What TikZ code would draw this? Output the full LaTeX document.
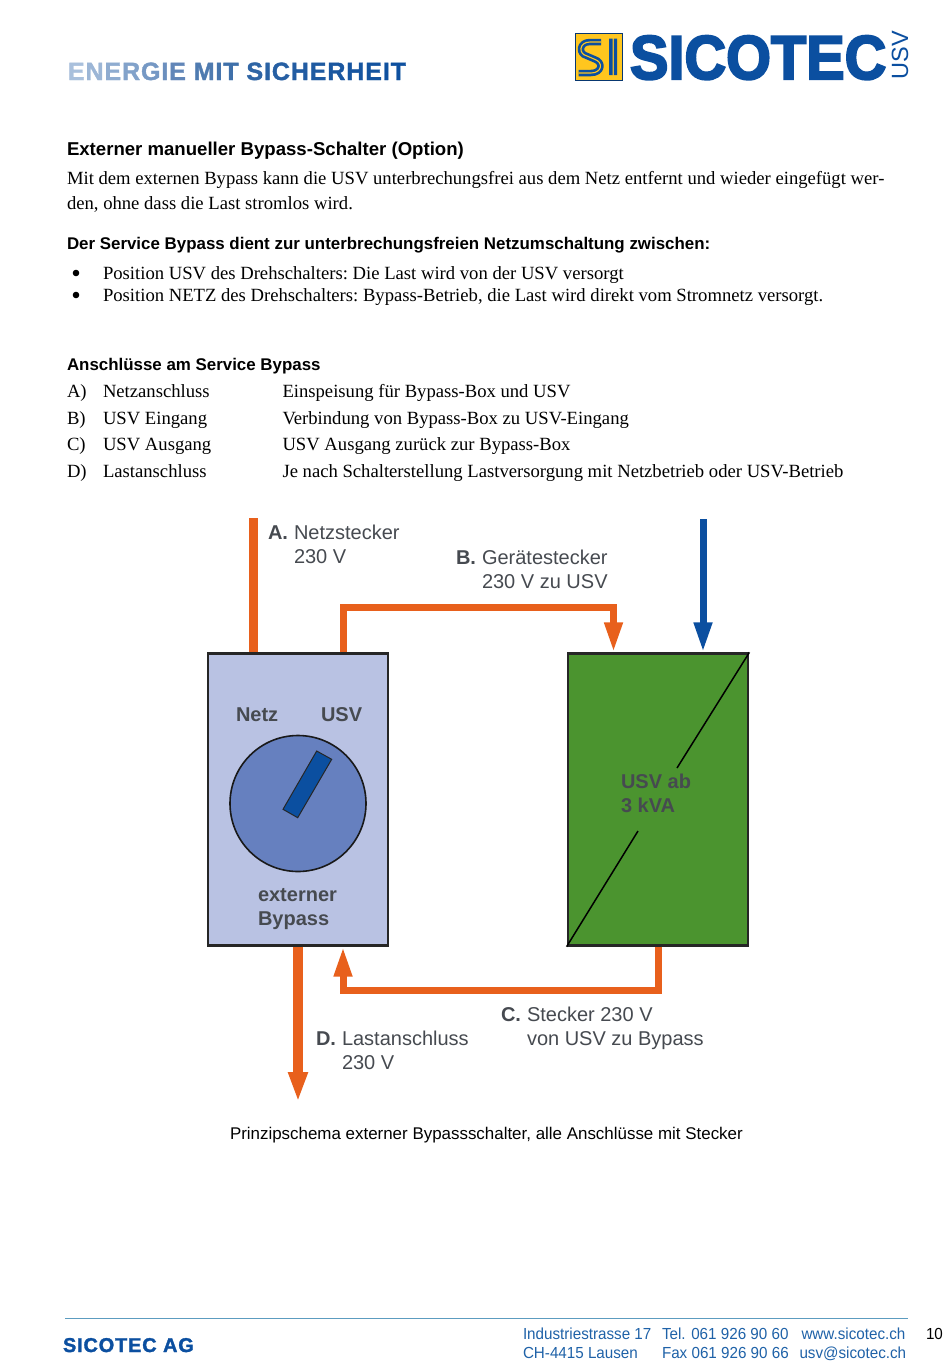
\documentclass[tikz,border=0pt]{standalone}
\usepackage{fontspec}
\usetikzlibrary{arrows.meta,calc}
\setmainfont{Liberation Serif}
\newfontfamily\hv{Liberation Sans}
\newfontfamily\hvn[FakeStretch=0.95]{Liberation Sans}
\newfontfamily\hvfat[FakeBold=3.5]{Liberation Sans Bold}
\newfontfamily\hvsemi[FakeBold=1.5]{Liberation Sans Bold}
\newfontfamily\hvag[FakeBold=1.5,LetterSpace=4]{Liberation Sans Bold}
\definecolor{orangeline}{HTML}{E8601C}
\definecolor{blueline}{HTML}{0B4FA0}
\definecolor{boxblue}{HTML}{B9C2E3}
\definecolor{dialblue}{HTML}{6680BF}
\definecolor{usvgreen}{HTML}{4B942F}
\definecolor{labelgray}{HTML}{464A50}
\definecolor{footblue}{HTML}{1F62A8}
\definecolor{rulecol}{HTML}{5C9CC0}
\definecolor{logoyellow}{HTML}{FFC61E}
\newcommand{\sgl}[2]{\textcolor[HTML]{#1}{#2}\kern0.9pt\relax}
\tikzset{
  txt/.style={inner sep=0pt,outer sep=0pt,anchor=base west},
  body/.style={txt,font=\frenchspacing\fontsize{18.65}{22}\selectfont},
  bulletdot/.style={circle,fill=black,inner sep=0pt,minimum size=6.6pt},
  headA/.style={txt,font=\hv\bfseries\fontsize{18.6}{22}\selectfont},
  headB/.style={txt,font=\hv\bfseries\fontsize{16.9}{20}\selectfont},
  dlab/.style={txt,text=labelgray,font=\hv\fontsize{20}{24}\selectfont},
  dbold/.style={txt,text=labelgray,font=\hv\bfseries\fontsize{20}{24}\selectfont},
  foot/.style={txt,text=footblue,font=\hvn\fontsize{16}{18}\selectfont},
  flow/.style={draw=orangeline,line width=7pt,line join=miter},
  tipO/.style={-{Triangle[length=30pt,width=17pt]}},
  boxnode/.style={draw=black!85,line width=2.4pt,minimum width=180.4pt,minimum height=291.9pt,inner sep=0pt}
}
\begin{document}
\begin{tikzpicture}[x=1pt,y=-1pt]
\useasboundingbox (0,0) rectangle (950,1369);
\fill[white] (0,0) rectangle (950,1369);
% header
\node[txt,font=\hvsemi\fontsize{25}{28}\selectfont] (slogan) at (68,80) {\sgl{A9C0DC}{E}\sgl{9CB6D6}{N}\sgl{8FACD0}{E}\sgl{82A2CA}{R}\sgl{7598C4}{G}\sgl{6B8FBE}{I}\sgl{6186B8}{E} \sgl{4F7BB0}{M}\sgl{4675AD}{I}\sgl{3F70AA}{T} \sgl{2F65A5}{S}\sgl{2A62A4}{I}\sgl{265FA3}{C}\sgl{225CA2}{H}\sgl{1E5AA1}{E}\sgl{1A57A0}{R}\sgl{1655A0}{H}\sgl{13539F}{E}\sgl{10519F}{I}\sgl{0E509F}{T}};
% logo mark
\node[draw=blueline!70!black,line width=0.8pt,fill=logoyellow,minimum size=47pt,inner sep=0pt,anchor=north west] (mark) at (574.5,33) {};
\draw[blueline,line width=6.5pt,line cap=butt,line join=round] (601,42) -- (590,42) .. controls (579,42) and (578,54) .. (587,56) -- (594,59) .. controls (604,62) and (602,73) .. (591,73) -- (578.5,73);
\draw[logoyellow,line width=1.1pt] (601,42) -- (590,42) .. controls (579,42) and (578,54) .. (587,56) -- (594,59) .. controls (604,62) and (602,73) .. (591,73) -- (578.5,73);
\fill[blueline] (609,38.5) rectangle (612.5,75) (613.8,38.5) rectangle (617,75);
\node[txt,text=blueline,font=\hvfat\fontsize{62}{62}\selectfont,xscale=0.93] (brand) at (630,79) {SICOTEC};
\node[txt,text=blueline,font=\hv\fontsize{23.5}{24}\selectfont,rotate=90] (brandusv) at (908,79) {USV};
% text block
\node[headA] (t1) at (67,155) {Externer manueller Bypass-Schalter (Option)};
\node[body] (t2) at (67,184) {Mit dem externen Bypass kann die USV unterbrechungsfrei aus dem Netz entfernt und wieder eingefügt wer-};
\node[body] (t3) at (67,209) {den, ohne dass die Last stromlos wird.};
\node[headB] (t4) at (67,249) {Der Service Bypass dient zur unterbrechungsfreien Netzumschaltung zwischen:};
\node[bulletdot] (b1) at (76,273) {};
\node[body] (t5) at (103,279) {Position USV des Drehschalters: Die Last wird von der USV versorgt};
\node[bulletdot] (b2) at (76,295) {};
\node[body] (t6) at (103,301) {Position NETZ des Drehschalters: Bypass-Betrieb, die Last wird direkt vom Stromnetz versorgt.};
\node[headB] (t7) at (67,370) {Anschlüsse am Service Bypass};
\node[body] (a1) at (67,397) {A)};
\node[body] (a2) at (103,397) {Netzanschluss};
\node[body] (a3) at (282.5,397) {Einspeisung für Bypass-Box und USV};
\node[body] (b1a) at (67,424) {B)};
\node[body] (b2a) at (103,424) {USV Eingang};
\node[body] (b3a) at (282.5,424) {Verbindung von Bypass-Box zu USV-Eingang};
\node[body] (c1) at (67,450) {C)};
\node[body] (c2) at (103,450) {USV Ausgang};
\node[body] (c3) at (282.5,450) {USV Ausgang zurück zur Bypass-Box};
\node[body] (d1) at (67,477) {D)};
\node[body] (d2) at (103,477) {Lastanschluss};
\node[body] (d3) at (282.5,477) {Je nach Schalterstellung Lastversorgung mit Netzbetrieb oder USV-Betrieb};
% boxes
\node[boxnode,fill=boxblue] (bypass) at (298,799.5) {};
\node[boxnode,fill=usvgreen] (usv) at (658,799.5) {};
% free ends and bends
\coordinate (netzin) at (253,518);
\coordinate (usvin) at (703,519);
\coordinate (loadout) at (298,1102);
\coordinate (bendB) at (613.5,607);
\coordinate (bendC) at (343,990);
% connectors
\draw[draw=orangeline,line width=9pt] (netzin) -- (netzin |- bypass.north);
\draw[flow,tipO] ([xshift=45pt]bypass.north) |- (bendB) -- (bendB |- usv.north);
\draw[flow,tipO] (usv.south) |- (bendC) -- (bendC |- bypass.south);
\draw[draw=blueline,line width=7pt,tipO] (usvin) -- (usvin |- usv.north);
\draw[draw=orangeline,line width=10.5pt,-{Triangle[length=30pt,width=18pt]}] (bypass.south) -- (loadout);
% dial
\node[circle,draw=black!90,line width=1.6pt,fill=dialblue,minimum size=136pt,inner sep=0pt] (dial) at (298,803.5) {};
\draw[draw=black!85,line width=1pt,fill=blueline] (316.7,751) -- (331.7,759.3) -- (297.7,817.7) -- (283,809.3) -- cycle;
\node[dbold] (netz) at (236,721) {Netz};
\node[dbold] (usvlab) at (321,721) {USV};
\node[dbold] (ext) at (258,901) {externer};
\node[dbold] (byp) at (258,925) {Bypass};
% usv box
\draw[line width=1.5pt] (usv.north east) -- (677,768);
\draw[line width=1.5pt] (usv.south west) -- (638,831);
\node[dbold] (ab) at (621,788) {USV ab};
\node[dbold] (kva) at (621,812) {3 kVA};
% labels
\node[dbold] (la) at (268,539) {A.};
\node[dlab] (la1) at (294,539) {Netzstecker};
\node[dlab] (la2) at (294,563) {230 V};
\node[dbold] (lb) at (456,564) {B.};
\node[dlab] (lb1) at (482,564) {Gerätestecker};
\node[dlab] (lb2) at (482,588) {230 V zu USV};
\node[dbold] (lc) at (501,1021) {C.};
\node[dlab] (lc1) at (527,1021) {Stecker 230 V};
\node[dlab] (lc2) at (527,1045) {von USV zu Bypass};
\node[dbold] (ld) at (316,1045) {D.};
\node[dlab] (ld1) at (342,1045) {Lastanschluss};
\node[dlab] (ld2) at (342,1069) {230 V};
\node[txt,font=\hv\fontsize{16.93}{20}\selectfont] (cap) at (230,1139) {Prinzipschema externer Bypassschalter, alle Anschlüsse mit Stecker};
% footer
\coordinate (ruleL) at (65,1318);
\coordinate (ruleR) at (908,1318);
\draw[rulecol,line width=0.8pt] (ruleL) -- (ruleR);
\node[txt,text=blueline,font=\hvag\fontsize{20}{22}\selectfont] (ag) at (63,1352) {SICOTEC AG};
\node[foot] (f1) at (523,1339.5) {Industriestrasse 17};
\node[foot] (f2) at (662,1339.5) {Tel. 061 926 90 60};
\node[foot] (f3) at (801.5,1339.5) {www.sicotec.ch};
\node[foot] (f4) at (523,1358) {CH-4415 Lausen};
\node[foot] (f5) at (662,1358) {Fax 061 926 90 66};
\node[foot] (f6) at (799.5,1358) {usv@sicotec.ch};
\node[txt,font=\hvn\fontsize{16}{18}\selectfont] (pg) at (926,1339.5) {10};
\end{tikzpicture}
\end{document}
